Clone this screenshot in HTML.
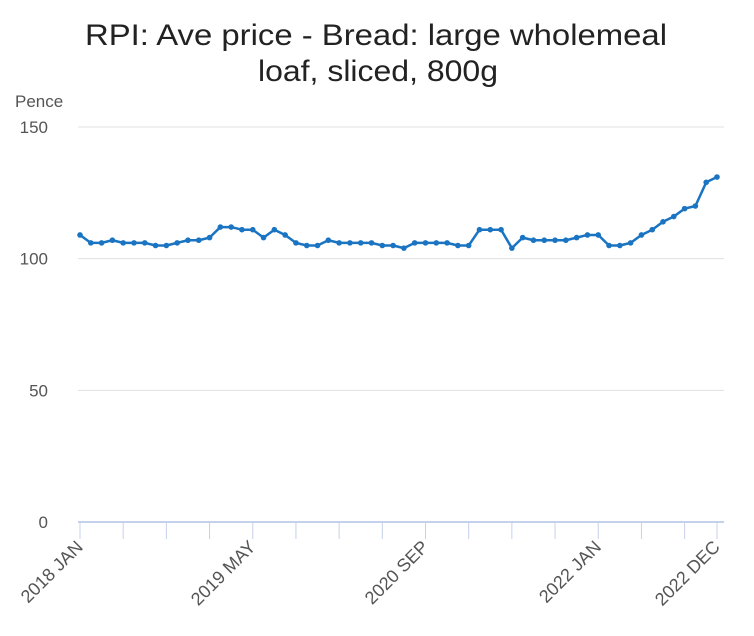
<!DOCTYPE html>
<html><head><meta charset="utf-8"><style>
body{margin:0;background:#fff;font-family:"Liberation Sans",sans-serif;}
svg{display:block}
</style></head><body>
<svg id="c" width="754" height="636">
<text x="376" y="45" text-anchor="middle" font-size="30" fill="#222" textLength="582" lengthAdjust="spacingAndGlyphs">RPI: Ave price - Bread: large wholemeal</text>
<text x="378" y="81" text-anchor="middle" font-size="30" fill="#222" textLength="240" lengthAdjust="spacingAndGlyphs">loaf, sliced, 800g</text>
<text x="15" y="107" font-size="17" fill="#555">Pence</text>
<g id="grid"></g><g id="xa"></g><g id="ln"></g>
</svg>
<script>
const values=[109,106,106,107,106,106,106,105,105,106,107,107,108,112,112,111,111,108,111,109,106,105,105,107,106,106,106,106,105,105,104,106,106,106,106,105,105,111,111,111,104,108,107,107,107,107,108,109,109,105,105,106,109,111,114,116,119,120,129,131];
const yTicks=[0,50,100,150];
const xLabels=[[0,"2018 JAN"],[16,"2019 MAY"],[32,"2020 SEP"],[48,"2022 JAN"],[59,"2022 DEC"]];
const NS="http://www.w3.org/2000/svg";
const X=i=>80+i*(637/59), Y=v=>522-v*(395/150);
function mk(t,a,p){const e=document.createElementNS(NS,t);for(const k in a)e.setAttribute(k,a[k]);p.appendChild(e);return e;}
const g=document.getElementById('grid');
yTicks.forEach(v=>{
 const l=mk('line',{x1:78,x2:724,y1:Y(v),y2:Y(v),stroke:v?'#e0e0e0':'#c5d0ea','stroke-width':v?1:2},g);
 
 
 const t=mk('text',{x:48,y:Y(v)+6,'text-anchor':'end','font-size':17,fill:'#555'},g);t.textContent=v;
 
 
});
const xa=document.getElementById('xa');
for(let i=0;i<=59;i+=4){const l=mk('line',{x1:X(i),x2:X(i),y1:523,y2:539,stroke:'#c5d0ea'},xa);
 
 }
{const l=mk('line',{x1:X(59),x2:X(59),y1:523,y2:539,stroke:'#c5d0ea'},xa);
 
 }
xLabels.forEach(([i,s])=>{const x=X(i)+4,y=548;
 const t=mk('text',{x:x,y:y,'text-anchor':'end','font-size':18,fill:'#555',transform:`rotate(-45 ${x} ${y})`},xa);t.textContent=s;
 
 });
const ln=document.getElementById('ln');
const p=mk('polyline',{points:values.map((v,i)=>X(i)+','+Y(v)).join(' '),fill:'none',stroke:'#1a74c2','stroke-width':2.5,'stroke-linejoin':'round'},ln);


values.forEach((v,i)=>{const c=mk('circle',{cx:X(i),cy:Y(v),r:2.8,fill:'#1a74c2'},ln);
 
 });
</script>
</body></html>
